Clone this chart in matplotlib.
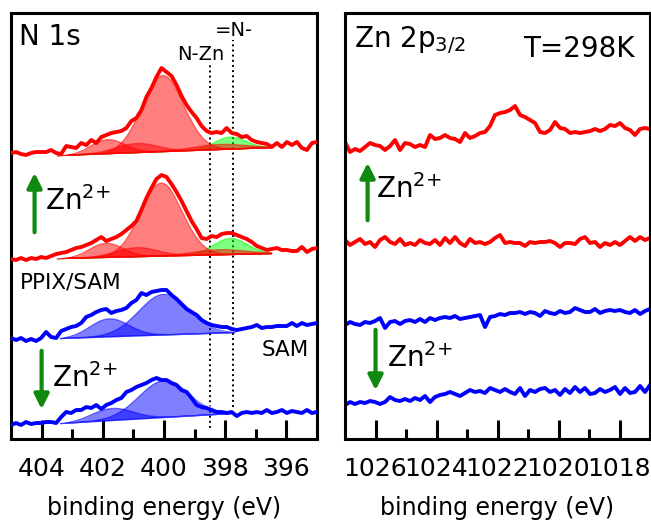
import numpy as np
import matplotlib.pyplot as plt

plt.rcParams['font.family'] = ['DejaVu Sans']
plt.rcParams['mathtext.fontset'] = 'dejavusans'

# ---- N 1s spectra, 62 points from 405 to 395 eV (intensity above each trace's offset)
be_n1s = np.linspace(405, 395, 62)
n1s_red_top = [6, 7, 5, 4, 6, 7, 7, 7, 9, 6, 5, 13, 12, 11, 16, 14, 19, 16, 22, 24,
               26, 27, 28, 31, 38, 41, 49, 62, 71, 82, 91, 87, 83, 74, 63, 54, 47, 41, 33, 28,
               26, 27, 26, 31, 26, 25, 22, 23, 19, 17, 16, 15, 12, 16, 12, 17, 14, 17, 11, 9,
               16, 17]
n1s_red_mid = [5, 4, 6, 4, 6, 5, 7, 6, 8, 10, 11, 12, 14, 16, 17, 19, 21, 24, 27, 23,
               25, 27, 30, 34, 38, 43, 54, 66, 76, 85, 89, 87, 80, 72, 63, 53, 43, 35, 26, 25,
               28, 27, 30, 31, 31, 29, 27, 25, 22, 18, 16, 14, 15, 16, 14, 14, 13, 13, 17, 12,
               15, 16]
n1s_ppix_sam = [6, 4, 6, 3, 5, 3, 6, 12, 7, 6, 13, 15, 17, 18, 21, 27, 29, 32, 34, 35,
                31, 33, 34, 36, 41, 44, 51, 49, 52, 53, 54, 54, 49, 45, 40, 35, 32, 29, 24, 21,
                19, 18, 17, 17, 15, 14, 15, 16, 17, 19, 16, 17, 17, 18, 18, 18, 21, 18, 21, 19,
                20, 21]
n1s_sam = [4, 6, 4, 7, 5, 6, 6, 7, 7, 6, 12, 17, 16, 19, 19, 22, 21, 24, 20, 24,
           26, 29, 31, 37, 39, 42, 44, 46, 49, 51, 49, 49, 46, 44, 39, 37, 31, 24, 22, 21,
           19, 17, 17, 16, 17, 13, 16, 17, 16, 17, 16, 19, 16, 17, 19, 16, 18, 17, 16, 19,
           16, 17]
n1s_offsets = [280, 175, 95, 10]

# fitted components: (centre eV, height, FWHM eV, colour); green =N- drawn first
fit_red_top = [(397.85, 12, 1.20, 'lime'), (400.05, 76, 1.60, 'red'), (401.85, 14, 1.30, 'red'),
               (400.9, 9, 1.60, 'red'), (398.2, 5, 2.00, 'red')]
fit_red_mid = [(397.85, 16, 1.30, 'lime'), (400.1, 73, 1.60, 'red'), (401.9, 14, 1.30, 'red'),
               (400.9, 9, 1.60, 'red'), (398.2, 5, 2.00, 'red')]
fit_ppix_sam = [(400.0, 41, 1.95, 'blue'), (401.8, 18, 1.50, 'blue')]
fit_sam = [(400.0, 37, 1.95, 'blue'), (401.7, 12, 1.60, 'blue')]
# linear background: value at high-BE end, value at low-BE end, fit range
fit_bg = [(4, 12), (6, 11), (6, 12), (6, 16)]
fit_range = [(403.5, 396.5), (403.5, 396.5), (403.4, 397.7), (403.4, 397.8)]

# ---- Zn 2p3/2 spectra, 62 points from 1027 to 1017 eV
be_zn = np.linspace(1027, 1017, 62)
zn_red_top = [18, 8, 11, 9, 13, 17, 15, 14, 10, 14, 20, 10, 17, 16, 13, 15, 13, 25, 21, 22,
              25, 22, 21, 18, 27, 22, 24, 27, 28, 34, 45, 47, 48, 50, 54, 45, 43, 40, 37, 28,
              27, 30, 38, 32, 31, 27, 28, 27, 28, 29, 31, 29, 31, 35, 34, 37, 32, 30, 25, 31,
              32, 31]
zn_red_mid = [15, 10, 13, 16, 11, 13, 8, 15, 18, 13, 11, 16, 10, 12, 10, 15, 12, 11, 15, 10,
              17, 12, 18, 12, 9, 16, 12, 13, 11, 13, 17, 20, 12, 13, 12, 12, 9, 13, 12, 13,
              13, 14, 12, 8, 12, 12, 11, 16, 18, 12, 13, 8, 12, 10, 13, 10, 14, 18, 14, 18,
              15, 17]
zn_ppix_sam = [15, 18, 16, 15, 18, 17, 19, 22, 12, 18, 19, 16, 19, 20, 18, 21, 18, 22, 20, 22,
               23, 22, 24, 21, 22, 23, 24, 25, 13, 23, 24, 26, 25, 27, 27, 28, 26, 28, 27, 24,
               29, 27, 26, 29, 27, 28, 32, 30, 28, 28, 31, 27, 29, 30, 29, 30, 28, 27, 30, 26,
               29, 31]
zn_sam = [20, 23, 21, 23, 22, 24, 23, 21, 23, 28, 25, 24, 26, 24, 27, 25, 29, 23, 28, 30,
          31, 33, 31, 29, 32, 35, 33, 34, 32, 37, 35, 33, 36, 33, 31, 37, 29, 35, 33, 36,
          37, 33, 35, 30, 36, 32, 38, 33, 37, 31, 32, 36, 33, 35, 38, 31, 37, 32, 33, 39,
          33, 40]
zn_offsets = [279, 184, 99, 14]

line_colors = ['#ff0000', '#ff0000', '#0000ff', '#0000ff']
arrow_green = '#0f8a0f'
zn_label = 'Zn$^{2{+}}$'

fig = plt.figure(figsize=(6.51, 5.23), dpi=100)
ax1 = fig.add_axes([0.0169, 0.1606, 0.470, 0.8145])
ax2 = fig.add_axes([0.530, 0.1606, 0.4685, 0.8145])


def gauss(e, c, h, w):
    return h * np.exp(-4 * np.log(2) * (e - c) ** 2 / w ** 2)


# N 1s panel
spectra = [n1s_red_top, n1s_red_mid, n1s_ppix_sam, n1s_sam]
fits = [fit_red_top, fit_red_mid, fit_ppix_sam, fit_sam]
for i in range(4):
    off = n1s_offsets[i]
    hi, lo = fit_range[i]
    e = np.linspace(hi, lo, 300)
    bg = off + np.interp(e, [lo, hi], [fit_bg[i][1], fit_bg[i][0]])
    total = bg.copy()
    for c, h, w, col in fits[i]:
        g = gauss(e, c, h, w)
        total += g
        ax1.fill_between(e, bg, bg + g, color=col, alpha=0.5, lw=1.0, zorder=2)
    ax1.plot(e, total, color='white', lw=1.0, zorder=2.5)
    ax1.plot(be_n1s, np.array(spectra[i]) + off, color=line_colors[i], lw=2.8, zorder=3)

ax1.plot([398.5, 398.5], [11, 376], ls=':', color='black', lw=1.4, zorder=1)
ax1.plot([397.75, 397.75], [32, 399], ls=':', color='black', lw=1.4, zorder=1)
ax1.text(398.79, 385, 'N-Zn', fontsize=14, ha='center', va='center')
ax1.text(397.7, 409, '=N-', fontsize=14, ha='center', va='center')
ax1.text(404.75, 402, 'N 1s', fontsize=20, ha='left', va='center')
ax1.text(403.9, 229, zn_label, fontsize=20, ha='left', va='baseline')
ax1.text(403.67, 52, zn_label, fontsize=20, ha='left', va='baseline')
ax1.text(404.72, 157, 'PPIX/SAM', fontsize=15.5, ha='left', va='center')
ax1.text(395.25, 89, 'SAM', fontsize=15.5, ha='right', va='center')
ax1.annotate('', xy=(404.23, 269), xytext=(404.23, 204),
             arrowprops=dict(arrowstyle='-|>', color=arrow_green, lw=3, mutation_scale=22))
ax1.annotate('', xy=(404.0, 27), xytext=(404.0, 91),
             arrowprops=dict(arrowstyle='-|>', color=arrow_green, lw=3, mutation_scale=22))
ax1.set_xlim(405, 395)
ax1.set_xticks([404, 402, 400, 398, 396])
ax1.set_xticks([403, 401, 399, 397, 395], minor=True)

# Zn 2p panel
zn_spectra = [zn_red_top, zn_red_mid, zn_ppix_sam, zn_sam]
for i in range(4):
    ax2.plot(be_zn, np.array(zn_spectra[i]) + zn_offsets[i], color=line_colors[i], lw=2.8)

ax2.text(1026.69, 392, 'Zn 2p$_{3/2}$', fontsize=20, ha='left', va='baseline')
ax2.text(1017.51, 382, 'T=298K', fontsize=20, ha='right', va='baseline')
ax2.text(1025.97, 241, zn_label, fontsize=20, ha='left', va='baseline')
ax2.text(1025.64, 72, zn_label, fontsize=20, ha='left', va='baseline')
ax2.annotate('', xy=(1026.26, 279), xytext=(1026.26, 216),
             arrowprops=dict(arrowstyle='-|>', color=arrow_green, lw=3, mutation_scale=22))
ax2.annotate('', xy=(1026.0, 46), xytext=(1026.0, 112),
             arrowprops=dict(arrowstyle='-|>', color=arrow_green, lw=3, mutation_scale=22))
ax2.set_xlim(1027, 1017)
ax2.set_xticks([1026, 1024, 1022, 1020, 1018])
ax2.set_xticks([1025, 1023, 1021, 1019, 1017], minor=True)

for ax in (ax1, ax2):
    ax.set_ylim(0, 426)
    ax.set_yticks([])
    for s in ax.spines.values():
        s.set_linewidth(2.2)
    ax.tick_params(axis='x', which='major', direction='in', length=13.5, width=2.2,
                   labelsize=18, pad=13, top=False)
    ax.tick_params(axis='x', which='minor', direction='in', length=7, width=2.2, top=False)
    ax.set_xlabel('binding energy (eV)', fontsize=17, labelpad=11)

fig.savefig('out.png', dpi=100)
